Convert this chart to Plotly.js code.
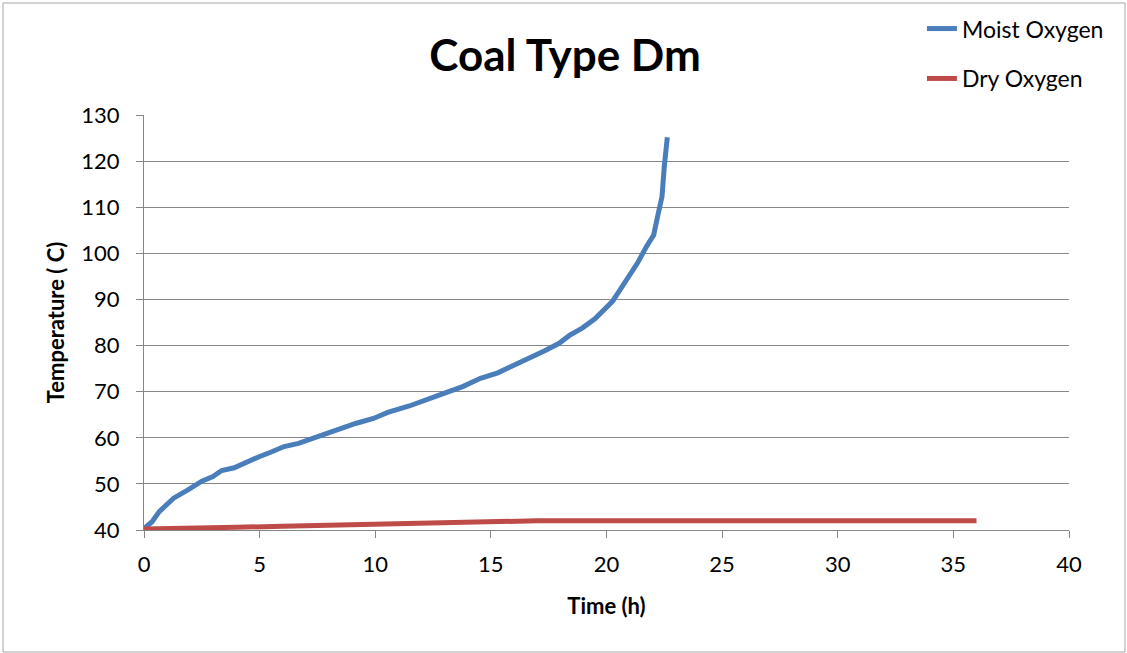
<!DOCTYPE html>
<html lang="en">
<head>
    <meta charset="UTF-8">
    <title>Coal Type Dm</title>
    <script src="https://cdn.plot.ly/plotly-3.0.1.min.js"></script>
    <style>
        body { margin: 0; padding: 0; background: white; }
        #plot { width: 1127px; height: 653px; }
    </style>
</head>
<body>
    <div id="plot"></div>
    <script>
        // Moist oxygen run (time h, temperature C)
        const moistTime = [0, 0.35, 0.66, 1.28, 1.9, 2.5, 2.98, 3.36, 3.9, 4.52, 4.98, 5.45, 6.06, 6.68, 7.3,
            7.92, 8.53, 9.15, 9.92, 10.54, 11.47, 12.24, 12.85, 13.78, 14.55, 15.3, 15.94, 16.7, 17.33,
            17.95, 18.4, 18.95, 19.5, 20.26, 20.88, 21.34, 21.73, 22.04, 22.24, 22.4, 22.5, 22.63];
        const moistTemp = [40.3, 41.8, 44.0, 46.9, 48.7, 50.6, 51.6, 52.9, 53.5, 55.0, 55.9, 56.8, 58.1, 58.8, 59.9,
            61.0, 62.2, 63.1, 64.2, 65.5, 66.9, 68.2, 69.4, 71.1, 72.9, 74.1, 75.6, 77.2, 78.9,
            80.5, 82.2, 83.8, 85.8, 89.6, 94.3, 97.9, 101.5, 104.0, 108.7, 112.3, 118.9, 125.2];

        // Dry oxygen run
        const dryTime = [0, 2, 4, 6, 8, 10, 12, 14, 15.5, 17, 20, 22, 25, 30, 36];
        const dryTemp = [40.2, 40.5, 40.6, 40.8, 41.0, 41.2, 41.5, 41.7, 41.9, 42.0, 42.0, 42.0, 42.0, 42.0, 42.0];

        const font = 'Lato, "Open Sans", sans-serif';
        const gray = '#868686';

        const traces = [
            {
                x: moistTime, y: moistTemp, type: 'scatter', mode: 'lines',
                name: 'Moist Oxygen', legendgroup: 'a',
                line: {color: '#4A7EBB', width: 5}
            },
            {
                x: dryTime, y: dryTemp, type: 'scatter', mode: 'lines',
                name: 'Dry Oxygen', legendgroup: 'b',
                line: {color: '#BE4B48', width: 5}
            }
        ];

        const layout = {
            width: 1127,
            height: 653,
            margin: {l: 144, r: 58, t: 115, b: 123, autoexpand: false},
            paper_bgcolor: 'white',
            plot_bgcolor: 'white',
            font: {family: font, color: '#000', size: 22},
            title: {
                text: '<b>Coal Type Dm</b>',
                font: {size: 44, family: font},
                x: 565 / 1127, xref: 'container', xanchor: 'center',
                y: 1 - 56 / 653, yref: 'container', yanchor: 'middle'
            },
            xaxis: {
                range: [0, 40], dtick: 5, tick0: 0,
                showgrid: false, zeroline: false,
                showline: true, linecolor: gray, linewidth: 1,
                ticks: 'outside', ticklen: 7, tickcolor: gray,
                ticklabelstandoff: 8,
                tickfont: {size: 22},
                title: {text: '<b>Time (h)</b>', font: {size: 22}, standoff: 22}
            },
            yaxis: {
                range: [40, 130.02], dtick: 10, tick0: 40,
                showgrid: true, gridcolor: gray, gridwidth: 1, zeroline: false,
                showline: true, linecolor: gray, linewidth: 1,
                ticks: 'outside', ticklen: 7, tickcolor: gray,
                ticklabelstandoff: 12,
                tickfont: {size: 22},
                title: {text: '<b>Temperature ( C)</b>', font: {size: 22}, standoff: 10}
            },
            showlegend: true,
            legend: {
                x: 0.841, y: 1.26, xanchor: 'left', yanchor: 'top',
                font: {size: 23}, bgcolor: 'rgba(0,0,0,0)',
                traceorder: 'grouped', tracegroupgap: 17
            },
            shapes: [{
                type: 'rect', xref: 'paper', yref: 'paper',
                x0: -141 / 925, x1: 1 + 56 / 925,
                y0: -122 / 415, y1: 1 + 112 / 415,
                line: {color: '#A6A6A6', width: 1}
            }]
        };

        Plotly.newPlot('plot', traces, layout, {displayModeBar: false});
    </script>
</body>
</html>
